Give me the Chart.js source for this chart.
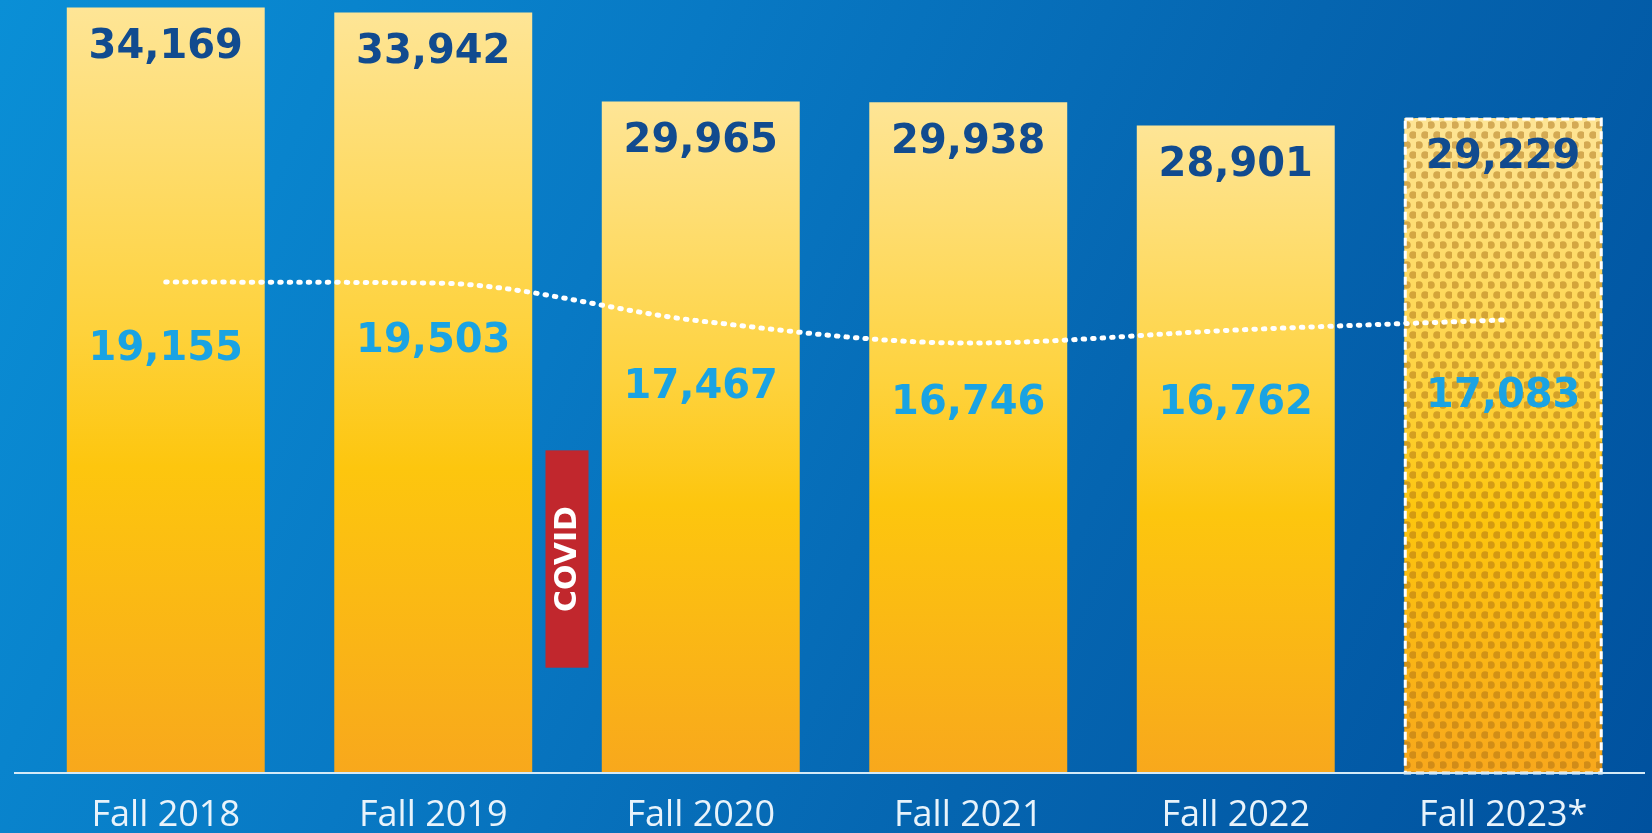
<!DOCTYPE html>
<html>
<head>
<meta charset="utf-8">
<title>Enrollment, Fall 2018 to Fall 2023</title>
<script src="https://cdn.jsdelivr.net/npm/chart.js@4.4.0/dist/chart.umd.min.js"></script>
<style>
  html, body { margin: 0; padding: 0; overflow: hidden; }
  body {
    width: 1652px; height: 833px;
    background: linear-gradient(115deg, #0a8fd6 0%, #0879c4 35%, #0565b0 65%, #00519e 100%);
  }
  #wrap { position: relative; width: 1652px; height: 833px; }
</style>
</head>
<body>
<div id="wrap"><canvas id="enrollChart"></canvas></div>
<script>
const terms = ['Fall 2018', 'Fall 2019', 'Fall 2020', 'Fall 2021', 'Fall 2022', 'Fall 2023*'];
const totalEnrollment = [34169, 33942, 29965, 29938, 28901, 29229];
const innerEnrollment = [19155, 19503, 17467, 16746, 16762, 17083];
const trendLine = [21910, 21870, 20170, 19190, 19770, 20220];
const projectedIndex = 5;

const labelFont = 'bold 40px "DejaVu Sans"';

function barFill(ctx) {
    const chart = ctx.chart;
    if (!chart.chartArea || ctx.raw == null) return '#fdc60d';
    const y = chart.scales.y;
    const top = y.getPixelForValue(ctx.raw);
    const bottom = y.getPixelForValue(0);
    const g = chart.ctx.createLinearGradient(0, top, 0, bottom);
    g.addColorStop(0, '#fee596');
    g.addColorStop(0.42, '#fed23c');
    g.addColorStop(0.6, '#fdc60e');
    g.addColorStop(1, '#f8a81c');
    return g;
}

let tile = null;
function dotTile() {
    if (tile) return tile;
    tile = document.createElement('canvas');
    tile.width = 12;
    tile.height = 20;
    const t = tile.getContext('2d');
    t.fillStyle = 'rgba(170, 112, 22, 0.5)';
    [[3, 5], [9, 15]].forEach(([x, y]) => {
        t.beginPath();
        t.arc(x, y, 3.8, 0, Math.PI * 2);
        t.fill();
    });
    return tile;
}

const decor = {
    id: 'decor',
    afterDatasetDraw(chart, args) {
        if (args.index !== 0) return;
        const c = chart.ctx;
        const bar = args.meta.data[projectedIndex];
        const x0 = bar.x - bar.width / 2;
        const w = bar.width, y0 = bar.y, h = bar.base - bar.y;
        c.save();
        c.fillStyle = c.createPattern(dotTile(), 'repeat');
        c.fillRect(x0, y0, w, h);
        c.strokeStyle = '#ffffff';
        c.lineWidth = 3;
        c.setLineDash([8, 5]);
        c.strokeRect(x0 + 1, y0 + 1, w - 2, h - 1);
        c.restore();
    },
    afterDatasetsDraw(chart) {
        const c = chart.ctx;
        const xs = chart.scales.x, ys = chart.scales.y;
        const bars = chart.getDatasetMeta(0).data;
        const base = ys.getPixelForValue(0);

        // baseline
        c.save();
        c.strokeStyle = '#d4eaf7';
        c.lineWidth = 2;
        c.beginPath();
        c.moveTo(14, base);
        c.lineTo(1645, base);
        c.stroke();

        // COVID marker between Fall 2019 and Fall 2020
        const mx = (xs.getPixelForValue(1) + xs.getPixelForValue(2)) / 2;
        const top = ys.getPixelForValue(14400), bottom = ys.getPixelForValue(4700);
        c.fillStyle = '#c1272d';
        c.fillRect(mx - 21.5, top, 43, bottom - top);
        c.translate(mx, (top + bottom) / 2);
        c.rotate(-Math.PI / 2);
        c.fillStyle = '#ffffff';
        c.font = 'bold 30px "DejaVu Sans"';
        c.textAlign = 'center';
        c.textBaseline = 'middle';
        c.fillText('COVID', 0, 1);
        c.restore();

        // value labels
        c.save();
        c.textAlign = 'center';
        c.textBaseline = 'middle';
        c.font = labelFont;
        bars.forEach((bar, i) => {
            c.fillStyle = '#114b8f';
            c.fillText(totalEnrollment[i].toLocaleString('en-US'), bar.x, bar.y + 40);
            c.fillStyle = '#1aa3e3';
            c.fillText(innerEnrollment[i].toLocaleString('en-US'), bar.x, ys.getPixelForValue(innerEnrollment[i]) + 6);
        });
        c.restore();
    }
};

new Chart(document.getElementById('enrollChart'), {
    data: {
        labels: terms,
        datasets: [
            {
                type: 'bar',
                label: 'Total',
                data: totalEnrollment,
                backgroundColor: barFill,
                borderWidth: 0,
                barPercentage: 0.74,
                categoryPercentage: 1,
                order: 1
            },
            {
                type: 'line',
                label: 'Trend',
                data: trendLine,
                borderColor: '#ffffff',
                borderWidth: 5,
                borderDash: [1.5, 8],
                borderCapStyle: 'round',
                pointRadius: 0,
                cubicInterpolationMode: 'monotone',
                fill: false,
                order: 0
            }
        ]
    },
    options: {
        responsive: true,
        maintainAspectRatio: false,
        animation: false,
        layout: { padding: { left: 32, right: 15, top: 0, bottom: 0 } },
        plugins: { legend: { display: false }, tooltip: { enabled: false } },
        scales: {
            x: {
                grid: { display: false, drawTicks: false },
                border: { display: false },
                ticks: { color: '#e8f3fb', padding: 21, font: { family: 'Open Sans', size: 36 } },
                afterFit(scale) { scale.height = 60; }
            },
            y: { display: false, min: 0, max: 34500 }
        }
    },
    plugins: [decor]
});
</script>
</body>
</html>
